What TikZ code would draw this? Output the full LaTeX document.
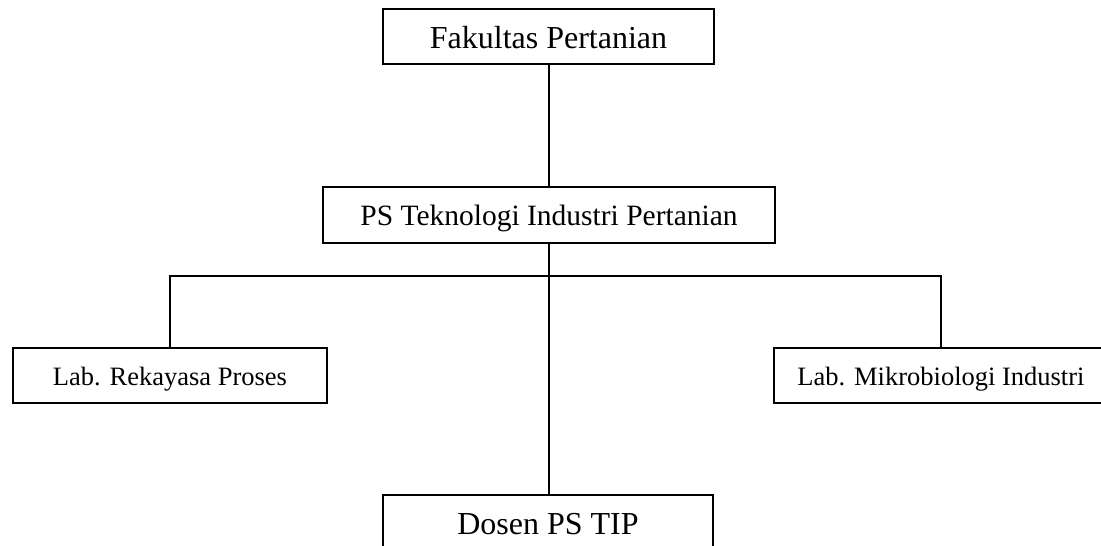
\documentclass[tikz,border=0pt]{standalone}
\usepackage{fontspec}
\setmainfont{Liberation Serif}
\begin{document}
\begin{tikzpicture}[x=1pt,y=-1pt,
  box/.style={draw, line width=2pt, rectangle, inner sep=0pt, text depth=0pt},
  big/.style={font=\fontsize{32}{38}\selectfont, text height=24.5pt},
  mid/.style={font=\fontsize{29.5}{35}\selectfont, text height=20.5pt},
  small/.style={font=\fontsize{26.5}{32}\selectfont, text height=19pt},
  conn/.style={line width=2pt}]
\useasboundingbox (0,0) rectangle (1101,546);
\clip (0,0) rectangle (1101,546);
\node[box, big, minimum width=331pt, minimum height=55pt] (fak) at (548.5,36.5) {Fakultas Pertanian};
\node[box, mid, minimum width=452pt, minimum height=56pt] (ps) at (549,215) {PS Teknologi Industri Pertanian};
\node[box, small, minimum width=314pt, minimum height=55pt] (labL) at (170,375.5) {Lab. Rekayasa Proses};
\node[box, small, minimum width=334pt, minimum height=55pt] (labR) at (941,375.5) {Lab. Mikrobiologi Industri};
\node[box, big, minimum width=330pt, minimum height=55pt] (dosen) at (548,522.5) {Dosen PS TIP};
\coordinate (j) at (549,276);
\draw[conn] (fak.south) -- (fak.south |- ps.north);
\draw[conn] (ps.south) -- (ps.south |- dosen.north);
\draw[conn] (labL.north) |- (j) -| (labR.north);
\end{tikzpicture}
\end{document}
